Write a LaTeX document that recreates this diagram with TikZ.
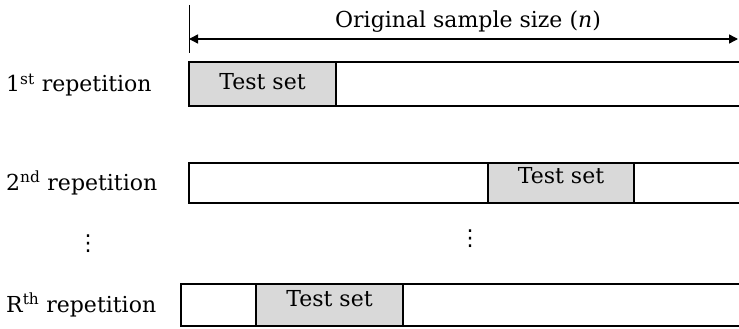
\documentclass[tikz,border=0pt]{standalone}
\usepackage{fontspec}
\setmainfont{DejaVu Serif}
\newfontfamily\dvsans{DejaVu Sans}
\usetikzlibrary{arrows.meta}
\definecolor{testgray}{HTML}{D9D9D9}
\begin{document}
\begin{tikzpicture}[x=1pt,y=-1pt,
  lbl/.style={font=\fontsize{22}{25}\selectfont, inner sep=0pt},
  dotsty/.style={font=\dvsans\fontsize{22}{24}\selectfont, inner sep=0pt, anchor=center},
  seg/.style={draw, line width=1.8pt},
  testseg/.style={seg, fill=testgray},
  ts/.style={font=\fontsize{22}{25}\selectfont, inner sep=0pt, anchor=base}]
\useasboundingbox (0,0) rectangle (739,329);
% top dimension
\coordinate (tickTop) at (189,5);
\coordinate (tickBot) at (189,53);
\draw[line width=0.8pt] (tickTop) -- (tickBot);
\coordinate (aL) at (189,39);
\coordinate (aR) at (738,39);
\draw[line width=1.4pt, {Triangle[length=9pt,width=9pt]}-{Triangle[length=9pt,width=9pt]}] (aL) -- (aR);
\node[lbl, anchor=base] (title) at (468,28) {Original sample size (\textit{n})};
% row 1
\node[lbl, anchor=base west] (r1) at (6,92) {1\textsuperscript{st} repetition};
\draw[seg] (189,62) rectangle (745,106);
\draw[testseg] (189,62) rectangle (336,106);
\node[ts] (t1) at (262.5,89) {Test set};
% row 2
\node[lbl, anchor=base west] (r2) at (6,190) {2\textsuperscript{nd} repetition};
\draw[seg] (189,163) rectangle (745,203);
\draw[testseg] (488,163) rectangle (634,203);
\node[ts] (t2) at (561,183) {Test set};
% dots
\node[dotsty] (d1) at (88,244) {⋮};
\node[dotsty] (d2) at (470,239) {⋮};
% row R
\node[lbl, anchor=base west] (rR) at (6,312) {R\textsuperscript{th} repetition};
\draw[seg] (181,284) rectangle (745,326);
\draw[testseg] (256,284) rectangle (403,326);
\node[ts] (tR) at (329.5,306) {Test set};
\end{tikzpicture}
\end{document}
